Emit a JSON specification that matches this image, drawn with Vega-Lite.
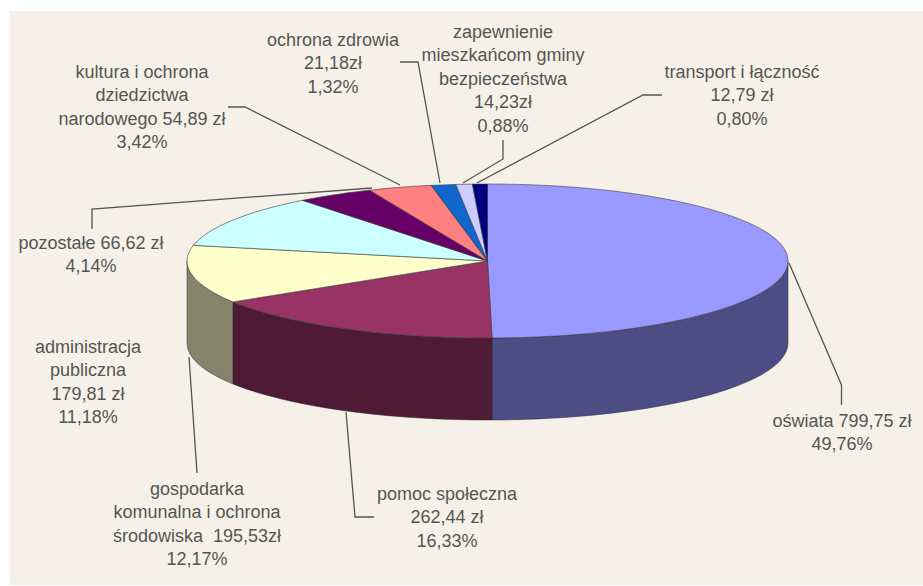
{
  "$schema": "https://vega.github.io/schema/vega-lite/v6.json",
  "width": 923,
  "height": 586,
  "padding": 0,
  "autosize": {"type": "fit", "contains": "padding"},
  "background": "#ffffff",
  "config": {"view": {"stroke": null}},
  "datasets": {
    "wydatki": [
      {"rank": 1, "slice": "oświata", "amount": 799.75, "share": 49.76, "label": "oświata 799,75 zł\n49,76%", "lx": 354.5, "ly": -152},
      {"rank": 2, "slice": "pomoc społeczna", "amount": 262.44, "share": 16.33, "label": "pomoc społeczna\n262,44 zł\n16,33%", "lx": -40.5, "ly": -225},
      {"rank": 3, "slice": "gospodarka komunalna", "amount": 195.53, "share": 12.17, "label": "gospodarka\nkomunalna i ochrona\nśrodowiska\u00a0 195,53zł\n12,17%", "lx": -290.5, "ly": -220},
      {"rank": 4, "slice": "administracja publiczna", "amount": 179.81, "share": 11.18, "label": "administracja\npubliczna\n179,81 zł\n11,18%", "lx": -399.5, "ly": -78},
      {"rank": 5, "slice": "pozostałe", "amount": 66.62, "share": 4.14, "label": "pozostałe 66,62 zł\n4,14%", "lx": -396.5, "ly": 26},
      {"rank": 6, "slice": "kultura", "amount": 54.89, "share": 3.42, "label": "kultura i ochrona\ndziedzictwa\nnarodowego 54,89 zł\n3,42%", "lx": -345.5, "ly": 197},
      {"rank": 7, "slice": "ochrona zdrowia", "amount": 21.18, "share": 1.32, "label": "ochrona zdrowia\n21,18zł\n1,32%", "lx": -154.5, "ly": 229},
      {"rank": 8, "slice": "bezpieczeństwo", "amount": 14.23, "share": 0.88, "label": "zapewnienie\nmieszkańcom gminy\nbezpieczeństwa\n14,23zł\n0,88%", "lx": 15.5, "ly": 237},
      {"rank": 9, "slice": "transport i łączność", "amount": 12.79, "share": 0.80, "label": "transport i łączność\n12,79 zł\n0,80%", "lx": 254.5, "ly": 197}
    ],
    "odnosniki": [
      {"slice": "oświata", "seq": 1, "x": 301.5, "y": -2},
      {"slice": "oświata", "seq": 2, "x": 354, "y": -124},
      {"slice": "oświata", "seq": 3, "x": 354, "y": -144},
      {"slice": "pomoc społeczna", "seq": 1, "x": -141.5, "y": -151},
      {"slice": "pomoc społeczna", "seq": 2, "x": -132.5, "y": -256},
      {"slice": "pomoc społeczna", "seq": 3, "x": -113.5, "y": -256},
      {"slice": "gospodarka komunalna", "seq": 1, "x": -298.5, "y": -96},
      {"slice": "gospodarka komunalna", "seq": 2, "x": -290.5, "y": -212},
      {"slice": "pozostałe", "seq": 1, "x": -115.5, "y": 73},
      {"slice": "pozostałe", "seq": 2, "x": -395.5, "y": 52},
      {"slice": "pozostałe", "seq": 3, "x": -395.5, "y": 32},
      {"slice": "kultura", "seq": 1, "x": -87.5, "y": 76},
      {"slice": "kultura", "seq": 2, "x": -242.5, "y": 154},
      {"slice": "kultura", "seq": 3, "x": -259.5, "y": 154},
      {"slice": "ochrona zdrowia", "seq": 1, "x": -47.5, "y": 78},
      {"slice": "ochrona zdrowia", "seq": 2, "x": -69.5, "y": 199},
      {"slice": "ochrona zdrowia", "seq": 3, "x": -87.5, "y": 199},
      {"slice": "bezpieczeństwo", "seq": 1, "x": -24.5, "y": 78},
      {"slice": "bezpieczeństwo", "seq": 2, "x": 15.5, "y": 102},
      {"slice": "bezpieczeństwo", "seq": 3, "x": 15.5, "y": 121},
      {"slice": "transport i łączność", "seq": 1, "x": -10.5, "y": 78},
      {"slice": "transport i łączność", "seq": 2, "x": 155.5, "y": 166},
      {"slice": "transport i łączność", "seq": 3, "x": 174.5, "y": 166}
    ]
  },
  "encoding": {
    "x": {"type": "quantitative", "scale": {"domain": [-487.5, 435.5], "nice": false, "zero": false}, "axis": null},
    "y": {"type": "quantitative", "scale": {"domain": [-325, 261], "nice": false, "zero": false}, "axis": null}
  },
  "layer": [
    {
      "data": {"values": [{"panel": "tło"}]},
      "mark": {"type": "rect", "color": "#f5f1e8"},
      "encoding": {
        "x": {"datum": -477.5},
        "x2": {"datum": 435.5},
        "y": {"datum": 250},
        "y2": {"datum": -324}
      }
    },
    {
      "data": {"name": "wydatki"},
      "transform": [
        {"window": [{"op": "sum", "field": "share", "as": "cum"}], "sort": [{"field": "rank"}]},
        {"calculate": "clamp((datum.cum - datum.share) * PI / 50, PI / 2, 3 * PI / 2)", "as": "b0"},
        {"calculate": "clamp(datum.cum * PI / 50, PI / 2, 3 * PI / 2)", "as": "b1"},
        {"filter": "datum.b1 > datum.b0"},
        {"calculate": "'M' + 300.5 * sin(datum.b0) + ',' + (-77 * cos(datum.b0)) + 'A300.5,77,0,0,1,' + 300.5 * sin(datum.b1) + ',' + (-77 * cos(datum.b1)) + 'L' + 300.5 * sin(datum.b1) + ',' + (82 - 77 * cos(datum.b1)) + 'A300.5,77,0,0,0,' + 300.5 * sin(datum.b0) + ',' + (82 - 77 * cos(datum.b0)) + 'Z'", "as": "wall"}
      ],
      "mark": {"type": "point", "filled": true, "opacity": 1, "stroke": "#2a2a3a", "strokeWidth": 0.5, "size": 4},
      "encoding": {
        "x": {"datum": 0},
        "y": {"datum": 0},
        "shape": {"field": "wall", "type": "nominal", "scale": null, "legend": null},
        "color": {
          "field": "slice",
          "type": "nominal",
          "legend": null,
          "scale": {
            "domain": ["oświata", "pomoc społeczna", "gospodarka komunalna"],
            "range": ["#4d4d85", "#4f1a33", "#84846a"]
          }
        }
      }
    },
    {
      "data": {"name": "wydatki"},
      "transform": [
        {"window": [{"op": "sum", "field": "share", "as": "cum"}], "sort": [{"field": "rank"}]},
        {"calculate": "(datum.cum - datum.share) * PI / 50", "as": "a0"},
        {"calculate": "datum.cum * PI / 50", "as": "a1"},
        {"calculate": "'M0,0L' + 300.5 * sin(datum.a0) + ',' + (-77 * cos(datum.a0)) + 'A300.5,77,0,0,1,' + 300.5 * sin(datum.a1) + ',' + (-77 * cos(datum.a1)) + 'Z'", "as": "wedge"}
      ],
      "mark": {"type": "point", "filled": true, "opacity": 1, "stroke": "#3a3a3a", "strokeWidth": 0.6, "size": 4},
      "encoding": {
        "x": {"datum": 0},
        "y": {"datum": 0},
        "shape": {"field": "wedge", "type": "nominal", "scale": null, "legend": null},
        "color": {
          "field": "slice",
          "type": "nominal",
          "legend": null,
          "scale": {
            "domain": ["oświata", "pomoc społeczna", "gospodarka komunalna", "administracja publiczna", "pozostałe", "kultura", "ochrona zdrowia", "bezpieczeństwo", "transport i łączność"],
            "range": ["#9999ff", "#993366", "#ffffcc", "#ccffff", "#660066", "#ff8080", "#0f66cc", "#ccccff", "#000080"]
          }
        }
      }
    },
    {
      "data": {"name": "odnosniki"},
      "mark": {"type": "line", "color": "#55564c", "strokeWidth": 1.3},
      "encoding": {
        "x": {"field": "x", "type": "quantitative"},
        "y": {"field": "y", "type": "quantitative"},
        "detail": {"field": "slice"},
        "order": {"field": "seq", "type": "ordinal"}
      }
    },
    {
      "data": {"name": "wydatki"},
      "mark": {"type": "text", "font": "Liberation Sans", "fontSize": 18, "color": "#555553", "align": "center", "baseline": "top", "lineBreak": "\n", "lineHeight": 23.4},
      "encoding": {
        "x": {"field": "lx", "type": "quantitative"},
        "y": {"field": "ly", "type": "quantitative"},
        "text": {"field": "label"}
      }
    }
  ],
  "resolve": {"scale": {"color": "independent", "shape": "independent"}}
}
